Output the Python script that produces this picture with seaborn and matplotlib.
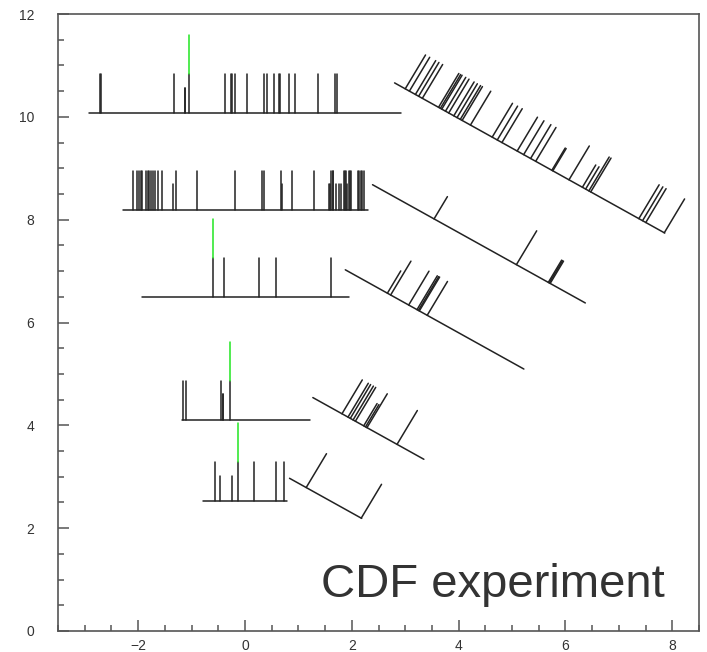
import numpy as np
import pandas as pd
import matplotlib
matplotlib.use('Agg')
import matplotlib.pyplot as plt
from matplotlib.ticker import MultipleLocator
import seaborn as sns

# stick heights (data units)
FULL = 0.76
SHORT = 0.50

# --- flat events: baseline centre, half length, stick positions along baseline
a_centre = (0.0, 10.07)
a_half = 2.92
a_full = [-2.72, -2.70, -1.32, -1.04, -0.37, -0.27, -0.25, -0.19, 0.03, 0.36, 0.41,
          0.55, 0.63, 0.66, 0.82, 0.94, 1.36, 1.69, 1.73]
a_short = [-1.13, -1.12]
a_green = [-1.04]

b_centre = (0.01, 8.19)
b_half = 2.30
b_full = [-2.11, -2.03, -2.00, -1.95, -1.93, -1.86, -1.83, -1.80, -1.77, -1.74, -1.69,
          -1.63, -1.56, -1.30, -0.91, -0.19, 0.31, 0.35, 0.66, 0.88, 1.28, 1.61, 1.63,
          1.64, 1.84, 1.86, 1.88, 1.93, 1.95, 1.97, 2.10, 2.13, 2.16, 2.19, 2.21]
b_short = [-1.36, 0.68, 1.57, 1.58, 1.69, 1.75, 1.78, 1.90]
b_green = []

c_centre = (0.01, 6.49)
c_half = 1.93
c_full = [-0.61, -0.40, 0.25, 0.58, 1.60]
c_short = []
c_green = [-0.61]

d_centre = (0.015, 4.11)
d_half = 1.20
d_full = [-1.18, -1.11, -0.46, -0.29]
d_short = [-0.43, -0.42]
d_green = [-0.29]

e_centre = (0.0, 2.52)
e_half = 0.78
e_full = [-0.56, -0.13, 0.17, 0.58, 0.74]
e_short = [-0.47, -0.24]
e_green = [-0.13]

# --- tilted events (rotated by -30 degrees)
tilt = -30
a2_centre = (5.33, 9.20)
a2_full = [-2.69, -2.60, -2.47, -2.40, -2.32, -1.97, -1.93, -1.90, -1.82, -1.75, -1.64,
           -1.57, -1.50, -1.46, -1.28, -0.81, -0.70, -0.60, -0.27, -0.13, 0.02, 0.13,
           0.85, 1.28, 1.32, 2.36, 2.44, 2.51, 2.91]
a2_short = [0.48, 0.50, 1.14, 1.21]

b2_centre = (4.38, 7.53)
b2_full = [0.81]
b2_short = [-0.97, 1.50, 1.52, 1.54]

c2_centre = (3.55, 6.06)
c2_full = [-0.95, -0.56, -0.38, -0.35, -0.33, -0.16]
c2_short = [-1.02]

d2_centre = (2.31, 3.94)
d2_full = [-0.57, -0.44, -0.39, -0.33, -0.28, -0.03, 0.62]
d2_short = [-0.10, -0.06]

e2_centre = (1.51, 2.58)
e2_full = [-0.42, 0.77]
e2_short = []

x_range = (-3.5, 8.5)
y_range = (0, 12)


def add_event(rows, name, centre, half, angle, full, short, green=()):
    # baseline plus sticks perpendicular to it, green sticks stacked on top
    th = np.radians(angle)
    u = np.array([np.cos(th), np.sin(th)])
    n = np.array([-np.sin(th), np.cos(th)])
    c = np.array(centre)
    for p in (c - half * u, c + half * u):
        rows.append((name + '_base', 'black', p[0], p[1]))
    sticks = [(t, FULL) for t in full] + [(t, SHORT) for t in short]
    for i, (t, h) in enumerate(sticks):
        b = c + t * u
        for p in (b, b + h * n):
            rows.append((f'{name}_s{i}', 'black', p[0], p[1]))
    for i, t in enumerate(green):
        b = c + t * u + FULL * n
        for p in (b, b + FULL * n):
            rows.append((f'{name}_g{i}', 'green', p[0], p[1]))


rows = []
add_event(rows, 'a', a_centre, a_half, 0, a_full, a_short, a_green)
add_event(rows, 'b', b_centre, b_half, 0, b_full, b_short, b_green)
add_event(rows, 'c', c_centre, c_half, 0, c_full, c_short, c_green)
add_event(rows, 'd', d_centre, d_half, 0, d_full, d_short, d_green)
add_event(rows, 'e', e_centre, e_half, 0, e_full, e_short, e_green)
add_event(rows, 'a2', a2_centre, a_half, tilt, a2_full, a2_short)
add_event(rows, 'b2', b2_centre, b_half, tilt, b2_full, b2_short)
add_event(rows, 'c2', c2_centre, c_half, tilt, c2_full, c2_short)
add_event(rows, 'd2', d2_centre, d_half, tilt, d2_full, d2_short)
add_event(rows, 'e2', e2_centre, e_half, tilt, e2_full, e2_short)
df = pd.DataFrame(rows, columns=['seg', 'kind', 'x', 'y'])

sns.set_style('ticks')
plt.rcParams['font.family'] = ['Liberation Sans', 'DejaVu Sans']

fig = plt.figure(figsize=(7.07, 6.52), dpi=100)
ax = fig.add_axes([58 / 707, 21 / 652, 641 / 707, 617 / 652])

sns.lineplot(data=df, x='x', y='y', units='seg', hue='kind', estimator=None, sort=False,
             hue_order=['black', 'green'], palette={'black': '#222222', 'green': '#22e622'},
             linewidth=1.1, legend=False, ax=ax)

ax.set_xlim(*x_range)
ax.set_ylim(*y_range)
ax.set_xlabel('')
ax.set_ylabel('')
ax.xaxis.set_major_locator(MultipleLocator(2))
ax.xaxis.set_minor_locator(MultipleLocator(0.5))
ax.yaxis.set_major_locator(MultipleLocator(2))
ax.yaxis.set_minor_locator(MultipleLocator(0.5))
ax.tick_params(which='both', direction='in', colors='#555555', labelcolor='#333333',
               labelsize=10, width=1.1)
ax.tick_params(which='major', length=8)
ax.tick_params(which='minor', length=4)
ax.tick_params(axis='y', pad=17)
ax.tick_params(axis='x', pad=6)
for s in ax.spines.values():
    s.set_visible(True)
    s.set_color('#555555')
    s.set_linewidth(1.2)

ax.text(0.947, 0.055, 'CDF experiment', transform=ax.transAxes, ha='right',
        va='baseline', fontsize=34, color='#333333')

fig.savefig('out.png', dpi=100)
